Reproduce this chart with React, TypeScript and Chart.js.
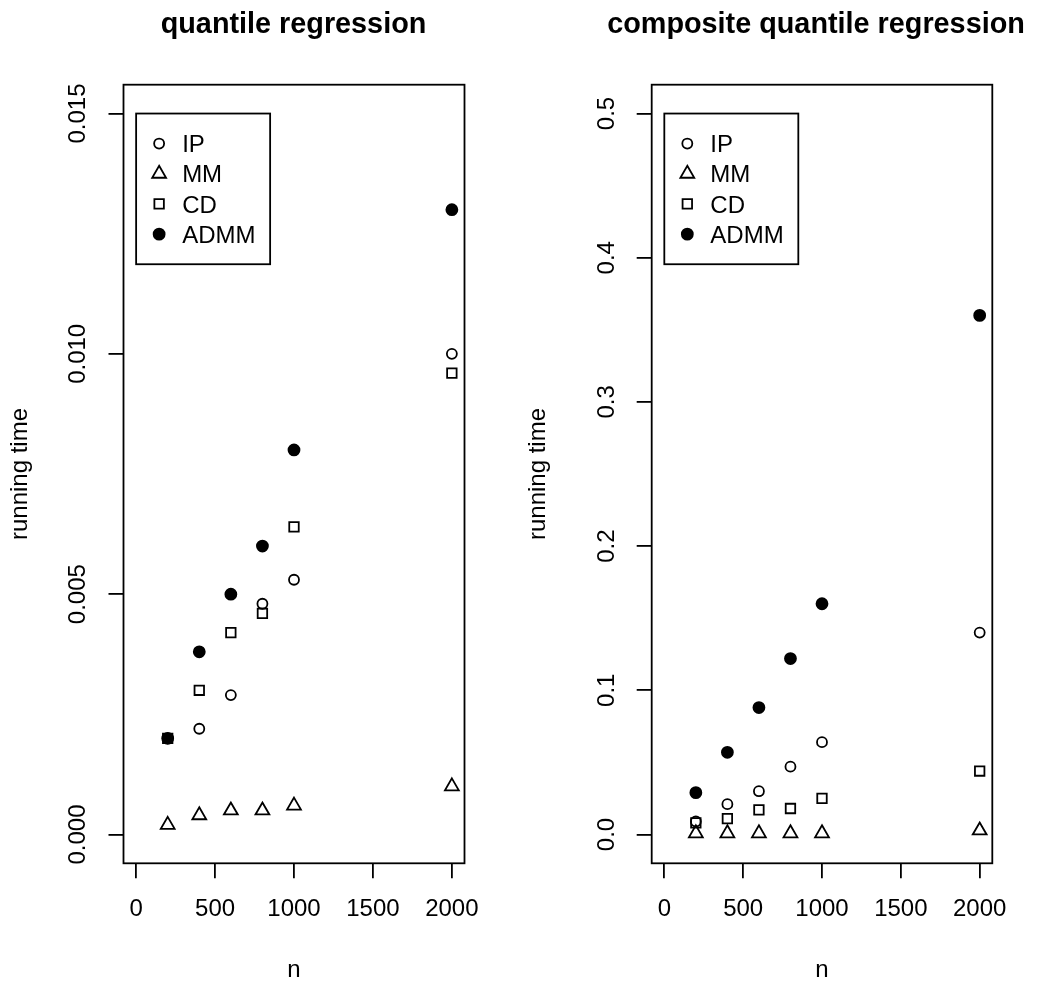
import React, { useEffect, useRef } from 'react';
import { Chart, registerables } from 'chart.js';

Chart.register(...registerables);

// ---------------- data ----------------
const nValues = [200, 400, 600, 800, 1000, 2000];
const methodNames = ['IP', 'MM', 'CD', 'ADMM'];

const qrIP = [0.002, 0.0022, 0.0029, 0.0048, 0.0053, 0.01];
const qrMM = [0.0002, 0.0004, 0.0005, 0.0005, 0.0006, 0.001];
const qrCD = [0.002, 0.003, 0.0042, 0.0046, 0.0064, 0.0096];
const qrADMM = [0.002, 0.0038, 0.005, 0.006, 0.008, 0.013];

const cqrIP = [0.009, 0.021, 0.03, 0.047, 0.064, 0.14];
const cqrMM = [0.0008, 0.0008, 0.0008, 0.0008, 0.0008, 0.0028];
const cqrCD = [0.008, 0.011, 0.017, 0.018, 0.025, 0.044];
const cqrADMM = [0.029, 0.057, 0.088, 0.122, 0.16, 0.36];

const xTicks = [0, 500, 1000, 1500, 2000];
const xTickLabels = ['0', '500', '1000', '1500', '2000'];
const qrYTicks = [0, 0.005, 0.01, 0.015];
const qrYTickLabels = ['0.000', '0.005', '0.010', '0.015'];
const cqrYTicks = [0, 0.1, 0.2, 0.3, 0.4, 0.5];
const cqrYTickLabels = ['0.0', '0.1', '0.2', '0.3', '0.4', '0.5'];

// ---------------- styles ----------------
const FONT = '"Liberation Sans", Arial, Helvetica, sans-serif';
const PAGE_H = 981;
const AREA_TOP = 84.7;
const AREA_BOTTOM = 863.3;
const LINE_W = 1.8;

type SymStyle = { pointStyle: string; radius: number; fill: string };
const symbolStyles: SymStyle[] = [
  { pointStyle: 'circle', radius: 5, fill: 'rgba(0,0,0,0)' },
  { pointStyle: 'triangle', radius: 8, fill: 'rgba(0,0,0,0)' },
  { pointStyle: 'rect', radius: 6.7, fill: 'rgba(0,0,0,0)' },
  { pointStyle: 'circle', radius: 5.5, fill: '#000' },
];
const drawOrder = [3, 2, 1, 0];

function drawSymbol(ctx: CanvasRenderingContext2D, s: SymStyle, x: number, y: number) {
  ctx.save();
  ctx.beginPath();
  const r = s.radius;
  if (s.pointStyle === 'circle') {
    ctx.arc(x, y, r, 0, Math.PI * 2);
  } else if (s.pointStyle === 'triangle') {
    for (let k = 0; k < 3; k++) {
      const a = (k * 2 * Math.PI) / 3;
      const px = x + Math.sin(a) * r;
      const py = y - Math.cos(a) * r;
      if (k === 0) ctx.moveTo(px, py);
      else ctx.lineTo(px, py);
    }
    ctx.closePath();
  } else {
    const h = r * Math.SQRT1_2;
    ctx.rect(x - h, y - h, 2 * h, 2 * h);
  }
  ctx.fillStyle = s.fill;
  ctx.fill();
  ctx.lineWidth = LINE_W;
  ctx.strokeStyle = '#000';
  ctx.stroke();
  ctx.restore();
}

type PanelCfg = {
  title: string;
  series: number[][];
  yTicks: number[];
  yTickLabels: string[];
  canvasLeft: number;
  width: number;
  areaLeft: number;
  areaRight: number;
  yTickPad: number;
  titleX: number;
};

const panels: PanelCfg[] = [
  {
    title: 'quantile regression',
    series: [qrIP, qrMM, qrCD, qrADMM],
    yTicks: qrYTicks,
    yTickLabels: qrYTickLabels,
    canvasLeft: 0,
    width: 518,
    areaLeft: 123.5,
    areaRight: 464.5,
    yTickPad: 0,
    titleX: 293.5,
  },
  {
    title: 'composite quantile regression',
    series: [cqrIP, cqrMM, cqrCD, cqrADMM],
    yTicks: cqrYTicks,
    yTickLabels: cqrYTickLabels,
    canvasLeft: 518,
    width: 519,
    areaLeft: 133.7,
    areaRight: 474.3,
    yTickPad: 12.5,
    titleX: 298,
  },
];

function Panel({ cfg }: { cfg: PanelCfg }) {
  const ref = useRef<HTMLCanvasElement | null>(null);

  useEffect(() => {
    if (!ref.current) return;
    const yLo = cfg.yTicks[0];
    const yHi = cfg.yTicks[cfg.yTicks.length - 1];
    const yPad = (yHi - yLo) * 0.04;
    const xLo = xTicks[0];
    const xHi = xTicks[xTicks.length - 1];
    const xPad = (xHi - xLo) * 0.04;

    const boxPlugin = {
      id: 'rBoxLegend',
      afterDraw(chart: any) {
        const { ctx, chartArea, scales } = chart;
        ctx.save();
        // plot box
        ctx.strokeStyle = '#000';
        ctx.lineWidth = LINE_W;
        ctx.strokeRect(chartArea.left, chartArea.top, chartArea.right - chartArea.left, chartArea.bottom - chartArea.top);
        // title
        ctx.fillStyle = '#000';
        ctx.font = `bold 28.8px ${FONT}`;
        ctx.textAlign = 'center';
        ctx.textBaseline = 'alphabetic';
        ctx.fillText(cfg.title, cfg.titleX, 33.3);
        // legend at (x = 0, y = top tick)
        const lx = scales.x.getPixelForValue(xTicks[0]);
        const ly = scales.y.getPixelForValue(yHi);
        const lw = 134;
        const lh = 150.7;
        ctx.fillStyle = '#fff';
        ctx.fillRect(lx, ly, lw, lh);
        ctx.strokeRect(lx, ly, lw, lh);
        ctx.font = `24px ${FONT}`;
        ctx.textAlign = 'left';
        ctx.fillStyle = '#000';
        methodNames.forEach((name, i) => {
          const ry = ly + 30 + i * 30.2;
          drawSymbol(ctx, symbolStyles[i], lx + 23, ry);
          ctx.fillStyle = '#000';
          ctx.fillText(name, lx + 46, ry + 8.6);
        });
        ctx.restore();
      },
    };

    const datasets = methodNames.map((name, i) => ({
      label: name,
      data: nValues.map((n, k) => ({ x: n, y: cfg.series[i][k] })),
      pointStyle: symbolStyles[i].pointStyle,
      pointRadius: symbolStyles[i].radius,
      pointHoverRadius: symbolStyles[i].radius,
      pointBorderWidth: LINE_W,
      pointBackgroundColor: symbolStyles[i].fill,
      pointBorderColor: '#000',
      backgroundColor: symbolStyles[i].fill,
      borderColor: '#000',
      showLine: false,
      order: drawOrder[i],
    }));

    const chart = new Chart(ref.current, {
      type: 'scatter',
      data: { datasets },
      plugins: [boxPlugin],
      options: {
        animation: false,
        responsive: false,
        devicePixelRatio: 1,
        events: [],
        layout: {
          padding: { top: AREA_TOP, right: cfg.width - cfg.areaRight, bottom: 0, left: 0 },
        },
        plugins: {
          legend: { display: false },
          tooltip: { enabled: false },
          title: { display: false },
        },
        scales: {
          x: {
            type: 'linear',
            min: xLo - xPad,
            max: xHi + xPad,
            afterBuildTicks: (scale: any) => {
              scale.ticks = xTicks.map((v) => ({ value: v }));
            },
            afterFit: (scale: any) => {
              scale.height = PAGE_H - AREA_BOTTOM;
            },
            grid: {
              display: true,
              drawOnChartArea: false,
              drawTicks: true,
              tickLength: 15,
              color: '#000',
              lineWidth: LINE_W,
            },
            border: { display: false },
            ticks: {
              autoSkip: false,
              maxRotation: 0,
              minRotation: 0,
              padding: 17,
              color: '#000',
              font: { family: FONT, size: 24 },
              callback: (v: any) => {
                const idx = xTicks.indexOf(Number(v));
                return idx >= 0 ? xTickLabels[idx] : '';
              },
            },
            title: {
              display: true,
              text: 'n',
              color: '#000',
              font: { family: FONT, size: 24 },
              padding: { top: 0, bottom: -3.6 },
            },
          },
          y: {
            type: 'linear',
            min: yLo - yPad,
            max: yHi + yPad,
            afterBuildTicks: (scale: any) => {
              scale.ticks = cfg.yTicks.map((v) => ({ value: v }));
            },
            afterFit: (scale: any) => {
              scale.width = cfg.areaLeft;
            },
            grid: {
              display: true,
              drawOnChartArea: false,
              drawTicks: true,
              tickLength: 15,
              color: '#000',
              lineWidth: LINE_W,
            },
            border: { display: false },
            ticks: {
              autoSkip: false,
              minRotation: 90,
              maxRotation: 90,
              crossAlign: 'center',
              padding: cfg.yTickPad,
              color: '#000',
              font: { family: FONT, size: 24 },
              callback: (v: any) => {
                const idx = cfg.yTicks.findIndex((t) => Math.abs(t - Number(v)) < 1e-9);
                return idx >= 0 ? cfg.yTickLabels[idx] : '';
              },
            },
            title: {
              display: true,
              text: 'running time',
              color: '#000',
              font: { family: FONT, size: 24 },
              padding: { top: 5.6, bottom: 0 },
            },
          },
        },
      } as any,
    });
    return () => chart.destroy();
  }, [cfg]);

  return (
    <canvas
      ref={ref}
      width={cfg.width}
      height={PAGE_H}
      style={{ position: 'absolute', left: cfg.canvasLeft, top: 0, width: cfg.width, height: PAGE_H, display: 'block' }}
    />
  );
}

export default function App() {
  return (
    <div
      style={{
        position: 'fixed',
        left: 0,
        top: 0,
        width: 1037,
        height: PAGE_H,
        overflow: 'hidden',
        background: '#fff',
      }}
    >
      {panels.map((p) => (
        <Panel key={p.title} cfg={p} />
      ))}
    </div>
  );
}
